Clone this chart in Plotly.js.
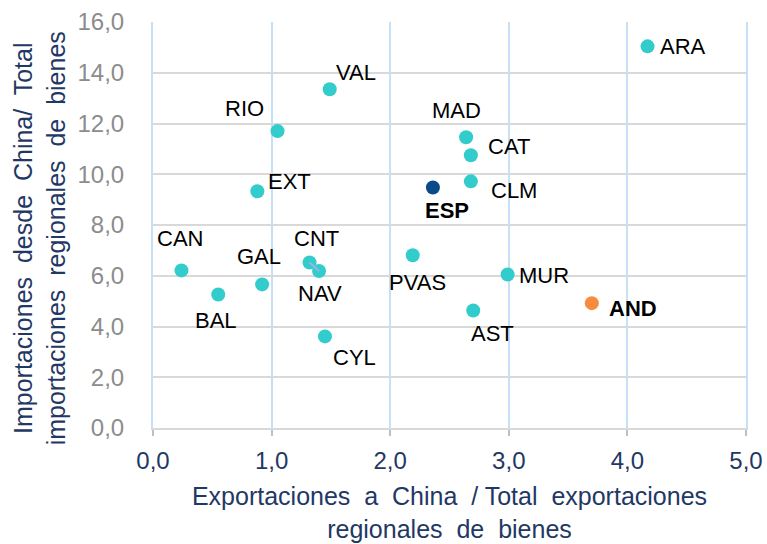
<!DOCTYPE html>
<html>
<head>
<meta charset="utf-8">
<script src="https://cdn.plot.ly/plotly-3.0.1.min.js"></script>
<style>html,body{margin:0;padding:0;background:#fff;}#chart{width:767px;height:544px;}</style>
</head>
<body>
<div id="chart"></div>
<script>
// Data
const regions = ["ARA","VAL","RIO","MAD","CAT","CLM","ESP","EXT","PVAS","CAN","CNT","NAV","GAL","BAL","CYL","MUR","AST","AND"];
const exportShare = [4.17,1.49,1.05,2.64,2.68,2.68,2.36,0.88,2.19,0.24,1.32,1.40,0.92,0.55,1.45,2.99,2.70,3.70];
const importShare = [15.04,13.35,11.70,11.46,10.75,9.72,9.48,9.33,6.81,6.21,6.52,6.19,5.66,5.26,3.61,6.05,4.63,4.92];
const xTickVals = [0,1,2,3,4,5];
const yTickVals = [0,2,4,6,8,10,12,14,16];
const xTitle = "Exportaciones  a  China  / Total  exportaciones<br>regionales  de  bienes";
const yTitle = "Importaciones  desde  China/  Total<br>importaciones  regionales  de  bienes";

// Styles
const teal = "#33CCCC", navy = "#0B4A88", orange = "#F78B3E";
const colorOf = r => r === "ESP" ? navy : (r === "AND" ? orange : teal);
const boldLabels = ["ESP","AND"];
// label offsets in px (dx right, dy down)
const labelOffset = {
  ARA:[35,0], VAL:[26,-17], RIO:[-33,-23], MAD:[-10,-27], CAT:[38,-9], CLM:[43,9],
  ESP:[14,23], EXT:[32,-10], PVAS:[5,27], CAN:[-1,-32], CNT:[7,-24], NAV:[1,23],
  GAL:[-3,-28], BAL:[-2,26], CYL:[30,21], MUR:[36,1], AST:[19,23], AND:[41,5]
};

const iCNT = regions.indexOf("CNT"), iNAV = regions.indexOf("NAV");

const traces = [
  {
    type: "scatter", mode: "markers",
    x: exportShare, y: importShare, text: regions,
    marker: {size: 14, color: regions.map(colorOf)},
    hoverinfo: "text+x+y", showlegend: false
  },
  {
    type: "scatter", mode: "lines",
    x: [exportShare[iCNT], exportShare[iNAV]],
    y: [importShare[iCNT], importShare[iNAV]],
    line: {color: "#9DB3E6", width: 2},
    hoverinfo: "skip", showlegend: false
  }
];

const annotations = regions.map((r, i) => ({
  x: exportShare[i], y: importShare[i], xref: "x", yref: "y",
  text: boldLabels.includes(r) ? "<b>" + r + "</b>" : r,
  showarrow: false, xanchor: "center", yanchor: "middle",
  xshift: labelOffset[r][0], yshift: -labelOffset[r][1],
  font: {family: "Liberation Sans, Arial, sans-serif", size: 22, color: "#000"}
}));

// y-axis title as rotated annotation (centred slightly below plot middle, as in the reference)
annotations.push({
  xref: "paper", yref: "paper", x: -0.19, y: 0.468,
  xanchor: "center", yanchor: "middle", textangle: -90, showarrow: false,
  text: yTitle,
  font: {family: "Liberation Sans, Arial, sans-serif", size: 25, color: "#1F3864"}
});

const layout = {
  width: 767, height: 544,
  margin: {l: 153, r: 21, t: 22, b: 116},
  paper_bgcolor: "#fff", plot_bgcolor: "#fff",
  separators: ",.",
  font: {family: "Liberation Sans, Arial, sans-serif"},
  xaxis: {
    range: [0, 5], tickvals: xTickVals, tickformat: ".1f",
    showgrid: true, gridcolor: "#C6E0F7", gridwidth: 2,
    zeroline: false, showline: true, linecolor: "#D9D9D9", linewidth: 2,
    ticks: "outside", ticklen: 6, tickcolor: "#BFBFBF", tickwidth: 2,
    ticklabelstandoff: 4,
    tickfont: {size: 24, color: "#1F3864"},
    title: {text: xTitle, font: {size: 25, color: "#1F3864"}, standoff: 15}
  },
  yaxis: {
    range: [0, 16], tickvals: yTickVals, tickformat: ".1f",
    showgrid: true, gridcolor: "#D9D9D9", gridwidth: 2,
    zeroline: false, showline: true, mirror: true, linecolor: "#C6E0F7", linewidth: 2,
    ticks: "",
    ticklabelstandoff: 22,
    tickfont: {size: 24, color: "#8C8C8C"}
  },
  annotations: annotations,
  showlegend: false
};

Plotly.newPlot("chart", traces, layout, {displayModeBar: false, staticPlot: true});
</script>
</body>
</html>
